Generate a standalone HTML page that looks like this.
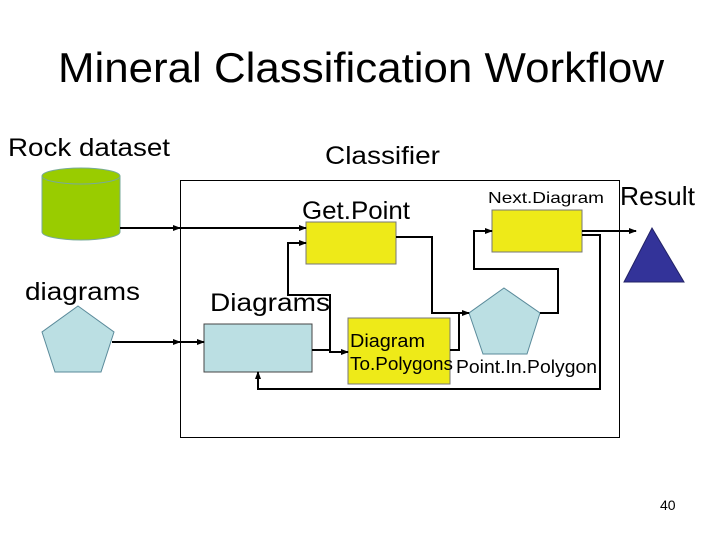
<!DOCTYPE html><html><head><style>body{margin:0;background:#fff}svg{display:block}text{font-family:"Liberation Sans","Noto Sans CJK SC",sans-serif}</style></head><body>
<svg width="720" height="540" xmlns="http://www.w3.org/2000/svg">
<defs><marker id="a" markerWidth="8" markerHeight="8" refX="7" refY="4" orient="auto" markerUnits="userSpaceOnUse"><path d="M0,1 L8,4 L0,7z" fill="#000"/></marker></defs>
<text x="361" y="82" font-size="42" text-anchor="middle" textLength="606" lengthAdjust="spacingAndGlyphs">Mineral Classification Workflow</text>
<text x="8" y="156" font-size="25" textLength="162" lengthAdjust="spacingAndGlyphs">Rock dataset</text>
<text x="325" y="164" font-size="25" textLength="115" lengthAdjust="spacingAndGlyphs">Classifier</text>
<text x="302" y="219" font-size="25" textLength="108" lengthAdjust="spacingAndGlyphs">Get.Point</text>
<text x="488" y="203" font-size="16" textLength="116" lengthAdjust="spacingAndGlyphs">Next.Diagram</text>
<text x="620" y="205" font-size="26" textLength="75" lengthAdjust="spacingAndGlyphs">Result</text>
<text x="25" y="300" font-size="25" textLength="115" lengthAdjust="spacingAndGlyphs">diagrams</text>
<text x="210" y="311" font-size="25" textLength="120" lengthAdjust="spacingAndGlyphs">Diagrams</text>
<text x="660" y="510" font-size="14">40</text>
<rect x="180.5" y="180.5" width="439" height="257" fill="none" stroke="#000"/>
<path d="M42,176 L42,232 A39,8 0 0 0 120,232 L120,176" fill="#99cc00" stroke="#7a9" stroke-width="1"/>
<ellipse cx="81" cy="176" rx="39" ry="8" fill="#99cc00" stroke="#7a9"/>
<polygon points="78,306 114,332 101,372 55,372 42,332" fill="#bbdfe3" stroke="#5a8a9a"/>
<polygon points="652,228 684,282 624,282" fill="#333399" stroke="#222266"/>
<rect x="306" y="222" width="90" height="42" fill="#eeea18" stroke="#777"/>
<rect x="492" y="210" width="90" height="42" fill="#eeea18" stroke="#777"/>
<rect x="204" y="324" width="108" height="48" fill="#bbdfe3" stroke="#444"/>
<rect x="348" y="318" width="102" height="66" fill="#eeea18" stroke="#777"/>
<polygon points="504,288 540,313 527,354 483,354 469,313" fill="#bbdfe3" stroke="#5a8a9a"/>
<text x="350" y="347" font-size="18" textLength="75" lengthAdjust="spacingAndGlyphs">Diagram</text>
<text x="350" y="370" font-size="18" textLength="103" lengthAdjust="spacingAndGlyphs">To.Polygons</text>
<text x="456" y="373" font-size="18" textLength="141" lengthAdjust="spacingAndGlyphs">Point.In.Polygon</text>
<g fill="none" stroke="#000" stroke-width="2">
<path d="M120,228 H180" marker-end="url(#a)"/><path d="M180,228 H306" marker-end="url(#a)"/>
<path d="M112,342 H180" marker-end="url(#a)"/><path d="M180,342 H204" marker-end="url(#a)"/>
<path d="M312,350 H330 V295 H288 V243 H306" marker-end="url(#a)"/>
<path d="M330,350 V352 H348" marker-end="url(#a)"/>
<path d="M396,237 H432 V313 H469" marker-end="url(#a)"/>
<path d="M450,350 H459 V313"/>
<path d="M540,313 H558 V269 H474 V231 H492" marker-end="url(#a)"/>
<path d="M582,231 H636" marker-end="url(#a)"/>
<path d="M582,235 H600 V389 H258 V372" marker-end="url(#a)"/>
</g>
</svg></body></html>
